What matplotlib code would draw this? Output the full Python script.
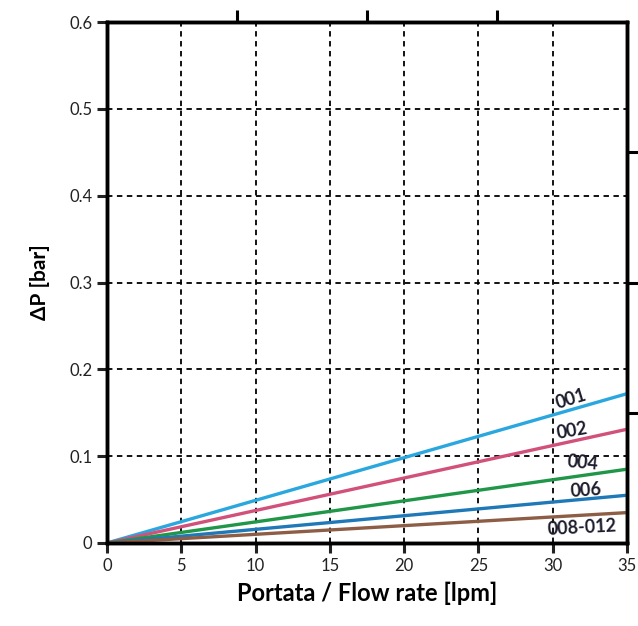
import matplotlib
matplotlib.use("Agg")
import matplotlib.pyplot as plt

# flow rate (lpm) and pressure drop (bar) for each filter size
flow = [0, 35]
dp_001 = [0, 0.172]
dp_002 = [0, 0.131]
dp_004 = [0, 0.085]
dp_006 = [0, 0.055]
dp_008_012 = [0, 0.035]

series = [
    ("001", dp_001, "#2aa7de"),
    ("002", dp_002, "#d2517a"),
    ("004", dp_004, "#1f9648"),
    ("006", dp_006, "#1f78b8"),
    ("008-012", dp_008_012, "#8d5d45"),
]

# where the small labels sit next to the lines
label_pos = {
    "001": (31.2, 0.166, 17),
    "002": (31.3, 0.129, 10),
    "004": (32.0, 0.092, -5),
    "006": (32.2, 0.060, 4),
    "008-012": (32.0, 0.018, 3),
}

x_ticks = [0, 5, 10, 15, 20, 25, 30, 35]
y_ticks = [0, 0.1, 0.2, 0.3, 0.4, 0.5, 0.6]
y_tick_labels = ["0", "0.1", "0.2", "0.3", "0.4", "0.5", "0.6"]
top_ticks = [8.75, 17.5, 26.25]
right_ticks = [0.15, 0.30, 0.45]

plt.rcParams["font.family"] = ["Lato", "DejaVu Sans"]

fig = plt.figure(figsize=(6.38, 6.26), dpi=100)
ax = fig.add_axes([0.1677, 0.1326, 0.815, 0.832])

for name, vals, col in series:
    ax.plot(flow, vals, color=col, linewidth=2.4, solid_capstyle="butt", zorder=3)
    lx, ly, rot = label_pos[name]
    ax.text(lx, ly, name, fontsize=13, fontweight="bold", color="#1c1c2c",
            rotation=rot, ha="center", va="center", zorder=4)

ax.set_xlim(0, 35)
ax.set_ylim(0, 0.6)
ax.set_xticks(x_ticks)
ax.set_xticklabels([str(t) for t in x_ticks])
ax.set_yticks(y_ticks)
ax.set_yticklabels(y_tick_labels)
ax.grid(True, color="black", linestyle=(0, (3, 2.5)), linewidth=1.3)
ax.tick_params(direction="out", length=7, width=2.2, labelsize=12, colors="#222222")

for sp in ax.spines.values():
    sp.set_linewidth(2.4)

ax.set_xlabel("Portata / Flow rate [lpm]", fontsize=17, fontweight="bold", labelpad=6)
ax.set_ylabel("ΔP [bar]", fontsize=15, fontweight="bold", labelpad=14)

# cropped secondary scales: only the ticks are visible
ax_top = ax.twiny()
ax_top.set_xlim(0, 35)
ax_top.set_xticks(top_ticks)
ax_top.set_xticklabels([])
ax_top.tick_params(direction="out", length=9, width=2.2)

ax_right = ax.twinx()
ax_right.set_ylim(0, 0.6)
ax_right.set_yticks(right_ticks)
ax_right.set_yticklabels([])
ax_right.tick_params(direction="out", length=12, width=2.2)
for a in (ax_top, ax_right):
    for sp in a.spines.values():
        sp.set_linewidth(2.4)

fig.savefig("out.png", dpi=100)
